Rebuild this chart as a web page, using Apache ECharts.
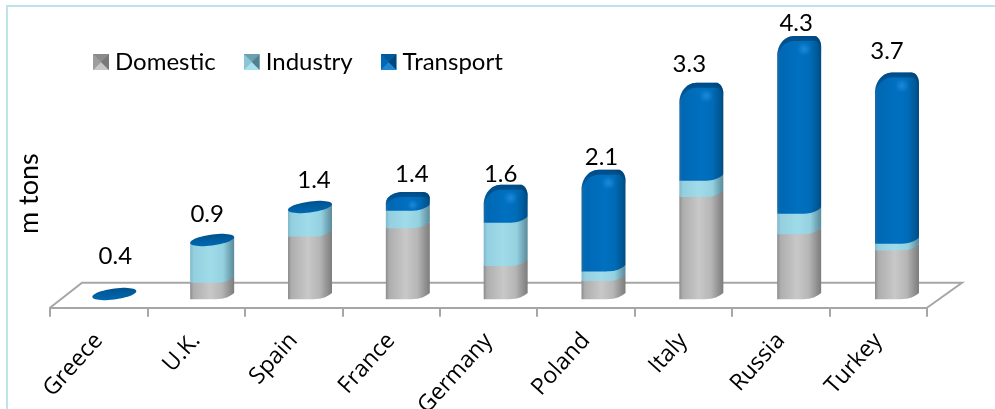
<!DOCTYPE html>
<html><head><meta charset="utf-8">
<style>html,body{margin:0;padding:0;background:#fff}#c{width:995px;height:409px}</style>
<script src="https://cdn.jsdelivr.net/npm/echarts@6/dist/echarts.min.js"></script>
</head><body><div id="c"></div>
<script>
// ---- data ----
const categories = ['Greece','U.K.','Spain','France','Germany','Poland','Italy','Russia','Turkey'];
const domestic  = [0, 0.24, 1.01, 1.15, 0.52, 0.27, 1.67, 1.05, 0.78];
const industry  = [0, 0.66, 0.44, 0.29, 0.72, 0.16, 0.27, 0.34, 0.11];
const transport = [0, 0, 0, 0.26, 0.58, 1.64, 1.58, 2.91, 2.80];
const totalLabels = ['0.4','0.9','1.4','1.4','1.6','2.1','3.3','4.3','3.7'];

// ---- layout / style ----
const DEPTH = {x: 15.6, y: -13.7, spread: 0.39};
const A = 22, B = 5.5, TILT = 2.8;
const labelNudge = [[1,-38],[-5,-26],[4,-27],[4,-18],[-5,-11],[-2,-13],[-12,-19],[-3,-12.5],[-10,-21]];
const FONT = 'Lato';
const grad = (stops) => new echarts.graphic.LinearGradient(0,0,1,0,stops.map(s=>({offset:s[0],color:s[1]})));
const GREY = grad([[0,'#8c8c8c'],[.08,'#aeaeae'],[.45,'#c8c8c8'],[.72,'#b6b6b6'],[.9,'#909090'],[1,'#7c7c7c']]);
const CYAN = grad([[0,'#80b8c8'],[.08,'#93cfdf'],[.45,'#a0dbe9'],[.75,'#94d1e0'],[.92,'#6ca0b0'],[1,'#5a8b9b']]);
const BLUE = grad([[0,'#1b6ba8'],[.08,'#0068b4'],[.5,'#0070c0'],[.75,'#006cb8'],[.9,'#005a9a'],[1,'#004c82']]);

function lowerArc(cx, y) {           // left -> right along the front: flat, then rising at the right
  const p = [];
  for (let k = 0; k <= 32; k++) {
    const u = -1 + 2 * k / 32;
    p.push([cx + A * u, y + 3.2 - 6.2 * Math.pow(Math.max(0, u), 3)]);
  }
  return p;
}
function dome(cx, yT, vL) {          // left -> right over the top
  const p = [], hL = 17, hR = 7, vR = vL * .55, x0 = cx - A, x1 = cx + A;
  for (let k = 0; k <= 14; k++) {
    const t = Math.PI / 2 * k / 14;
    p.push([x0 + hL - hL * Math.cos(t), yT + vL - vL * Math.sin(t)]);
  }
  for (let k = 0; k <= 14; k++) {
    const t = Math.PI / 2 * k / 14;
    p.push([x1 - hR + hR * Math.sin(t), yT + vR - vR * Math.cos(t)]);
  }
  return p;
}
function ellipse(cx, y) {
  const p = [];
  for (let k = 0; k < 48; k++) {
    const t = 2 * Math.PI * k / 48;
    p.push([cx + A * Math.cos(t), y + B * Math.sin(t) - TILT * Math.cos(t)]);
  }
  return p;
}
function segment(fill, isTop) {
  return function (params, api) {
    const i = api.value(0), val = api.value(1), base = api.value(2);
    const b = api.coord([i, base]), t = api.coord([i, base + val]);
    const cx = b[0] + DEPTH.x + DEPTH.spread * i, yB = b[1] + DEPTH.y, yT = t[1] + DEPTH.y;
    const h = yB - yT;
    const children = [];
    if (h < 0.5 && !isTop) return {type:'group', children};
    if (isTop && h < 3) {
      children.push({type:'polygon', shape:{points: ellipse(cx, yB)},
        style:{fill: new echarts.graphic.LinearGradient(0,0,0,1,[{offset:0,color:'#00528e'},{offset:1,color:'#0068b2'}])}});
      return {type:'group', children};
    }
    const arcY = base === 0 ? yB + 2 : yB;
    if (isTop) {
      const vL = Math.min(20, h * .72);
      const d = dome(cx, yT, vL);
      const pts = lowerArc(cx, arcY).reverse().concat(d);
      children.push({type:'polygon', shape:{points: pts}, style:{fill}});
      const capPts = d.concat(d.slice().reverse().map(q => [q[0], q[1] + 5]));
      children.push({type:'polygon', shape:{points: capPts},
        style:{fill: new echarts.graphic.LinearGradient(0,0,0,1,[{offset:0,color:'rgba(0,60,110,.7)'},{offset:1,color:'rgba(0,60,110,0)'}])}});
      children.push({type:'ellipse', shape:{cx: cx + 5, cy: yT + 13, rx: 7, ry: Math.min(10, h * .35)},
        style:{fill: new echarts.graphic.RadialGradient(.5,.5,.5,[{offset:0,color:'rgba(40,145,230,.75)'},{offset:1,color:'rgba(40,145,230,0)'}])}});
    } else {
      const pts = lowerArc(cx, arcY).reverse().concat([[cx - A, yT + TILT],[cx + A, yT - TILT]]);
      children.push({type:'polygon', shape:{points: pts}, style:{fill}});
    }
    return {type:'group', children};
  };
}
function stackRows(vals, below) {
  return vals.map((v, i) => [i, v, below.reduce((s, a) => s + a[i], 0)]);
}
function bevelIcon(light, mid, dark, side) {
  const svg = `<svg xmlns="http://www.w3.org/2000/svg" width="16" height="16">`+
    `<rect width="16" height="16" fill="${mid}"/>`+
    `<polygon points="0,0 16,0 8,8" fill="${side}"/>`+
    `<polygon points="0,16 16,16 8,8" fill="${light}"/>`+
    `<polygon points="0,0 0,16 8,8" fill="${mid}"/>`+
    `<polygon points="16,0 16,16 8,8" fill="${dark}"/></svg>`;
  return 'image://data:image/svg+xml;charset=utf-8,' + encodeURIComponent(svg);
}

const chart = echarts.init(document.getElementById('c'), null, {renderer:'canvas'});
const bar = (name, vals, below, fill, top) => ({
  name, type:'custom', renderItem: segment(fill, top), data: stackRows(vals, below),
  encode:{x:0, y:1}, z: 3, clip:false, silent:true
});
chart.setOption({
  animation:false, backgroundColor:'#fff',
  grid:{left:50, top:7.7, width:877, height:300, containLabel:false, outerBoundsMode:'none'},
  graphic:[{type:'rect', z:-1, shape:{x:7, y:6, width:1000, height:420},
    style:{fill:'none', stroke:'#bfe3eb', lineWidth:2}}],
  legend:{left:93, top:50, padding:0, itemWidth:16, itemHeight:16, itemGap:28, selectedMode:false,
    textStyle:{fontFamily:FONT, fontSize:24, color:'#000', padding:[0,0,0,1]},
    data:[
      {name:'Domestic', icon:bevelIcon('#c6c6c6','#9c9c9c','#787878','#8a8a8a')},
      {name:'Industry', icon:bevelIcon('#a8e0ee','#8cc6d6','#4f7f90','#6aa0b0')},
      {name:'Transport',icon:bevelIcon('#1d86d2','#0068b4','#00487c','#005a9c')}
    ]},
  xAxis:{type:'category', data:categories,
    axisLine:{lineStyle:{color:'#a6a6a6', width:2}},
    axisTick:{show:true, length:9, lineStyle:{color:'#a6a6a6', width:2}},
    axisLabel:{rotate:48, margin:29, interval:0, fontFamily:'Open Sans', fontSize:23, color:'#000'}},
  yAxis:{type:'value', min:0, max:5, name:'m tons', nameLocation:'middle', nameGap:7, nameRotate:90,
    nameTextStyle:{fontFamily:FONT, fontSize:27, color:'#000', padding:[0,72,0,0]},
    axisLine:{show:false}, axisTick:{show:false}, axisLabel:{show:false}, splitLine:{show:false}},
  series:[
    {type:'custom', silent:true, z:1, clip:false, data:[[0,0]], encode:{x:0,y:1},
     renderItem(params, api){
       const c = params.coordSys, y0 = c.y + c.height, yb = y0 - 25;
       return {type:'polyline', shape:{points:[[c.x,y0],[c.x+32,yb],[c.x+c.width+35,yb],[c.x+c.width,y0]]},
         style:{fill:'none', stroke:'#a6a6a6', lineWidth:2}};
     }},
    bar('Domestic', domestic, [], GREY, false),
    bar('Industry', industry, [domestic], CYAN, false),
    bar('Transport', transport, [domestic, industry], BLUE, true),
    {type:'custom', silent:true, z:5, clip:false, encode:{x:0,y:2},
     data: categories.map((c,i)=>[i, totalLabels[i], domestic[i]+industry[i]+transport[i]]),
     renderItem(params, api){
       const i = api.value(0), p = api.coord([i, api.value(2)]);
       const n = labelNudge[i];
       return {type:'text', style:{text: totalLabels[i], x: p[0]+DEPTH.x+DEPTH.spread*i+n[0], y: p[1]+DEPTH.y+n[1],
         align:'center', verticalAlign:'middle', font:`24px ${FONT}`, fill:'#000'}};
     }}
  ]
});
</script></body></html>
